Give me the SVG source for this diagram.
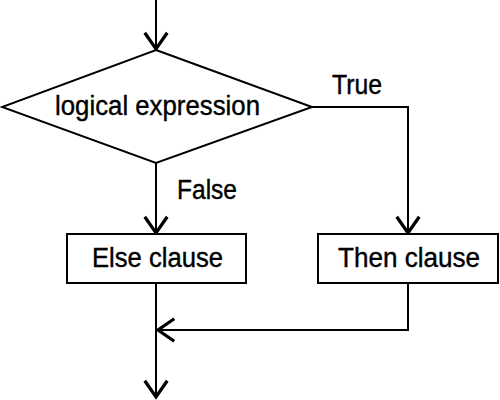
<svg xmlns="http://www.w3.org/2000/svg" width="500" height="400" viewBox="0 0 500 400">
<defs>
<marker id="arr" markerUnits="userSpaceOnUse" markerWidth="30" markerHeight="30" viewBox="-16 -12 20 24" refX="0" refY="0" orient="auto">
<path d="M-13,-9 L0,0 L-13,9" fill="none" stroke="#000" stroke-width="2.6"/>
</marker>
</defs>
<style>
.ln{fill:none;stroke:#000;stroke-width:2}
.bx{fill:#fff;stroke:#000;stroke-width:2}
text{font-family:"Liberation Sans",Arial,sans-serif;font-size:27px;fill:#000;stroke:#000;stroke-width:0.4}
</style>
<rect width="500" height="400" fill="#fff"/>
<g id="connectors">
<path class="ln" d="M156,0 L156,49" marker-end="url(#arr)"/>
<path class="ln" d="M156,163 L156,233" marker-end="url(#arr)"/>
<path class="ln" d="M312,107 L408,107 L408,233" marker-end="url(#arr)"/>
<path class="ln" d="M408,283 L408,330 L158,330" marker-end="url(#arr)"/>
<path class="ln" d="M156,283 L156,397" marker-end="url(#arr)"/>
<text x="332" y="94" textLength="50" lengthAdjust="spacingAndGlyphs">True</text>
<text x="177" y="199" textLength="60" lengthAdjust="spacingAndGlyphs">False</text>
</g>
<g id="decision">
<polygon class="bx" points="156,50 312,107 156,163 2,107"/>
<text x="55" y="115" textLength="205" lengthAdjust="spacingAndGlyphs">logical expression</text>
</g>
<g id="else">
<rect class="bx" x="67" y="234" width="179" height="49"/>
<text x="92" y="267" textLength="131" lengthAdjust="spacingAndGlyphs">Else clause</text>
</g>
<g id="then">
<rect class="bx" x="318" y="234" width="180" height="49"/>
<text x="338" y="267" textLength="142" lengthAdjust="spacingAndGlyphs">Then clause</text>
</g>
</svg>
